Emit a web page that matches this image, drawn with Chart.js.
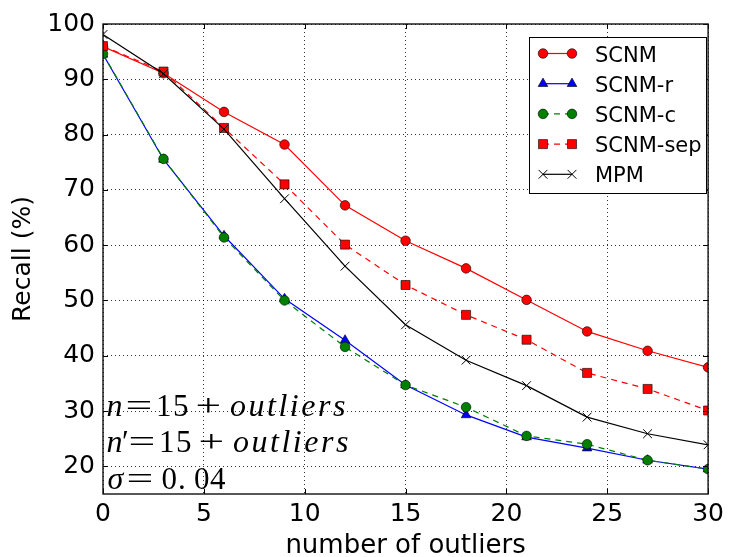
<!DOCTYPE html>
<html><head><meta charset="utf-8">
<script src="https://cdn.jsdelivr.net/npm/chart.js@4/dist/chart.umd.min.js"></script>
<style>html,body{margin:0;padding:0;background:#fff}canvas{display:block}</style>
</head><body>
<canvas id="c" width="729" height="557"></canvas>
<script>
// ---- data ----
const outliers = [0, 3, 6, 9, 12, 15, 18, 21, 24, 27, 30];
const scnm    = [95.9, 91.1, 84.1, 78.2, 67.2, 60.8, 55.8, 50.1, 44.4, 40.9, 37.9];
const scnmR   = [94.5, 75.5, 61.7, 50.3, 42.8, 34.7, 29.3, 25.3, 23.3, 21.1, 19.5];
const scnmC   = [94.6, 75.6, 61.4, 50.0, 41.6, 34.7, 30.7, 25.5, 24.0, 21.1, 19.5];
const scnmSep = [96.0, 91.4, 81.2, 71.0, 60.1, 52.8, 47.4, 42.9, 36.9, 34.0, 30.1];
const mpm     = [98.1, 91.0, 81.0, 68.4, 56.2, 45.6, 39.2, 34.6, 28.9, 25.9, 23.9];
const seriesNames = ['SCNM', 'SCNM-r', 'SCNM-c', 'SCNM-sep', 'MPM'];
const seriesValues = [scnm, scnmR, scnmC, scnmSep, mpm];
const xTicks = [0, 5, 10, 15, 20, 25, 30];
const yTicks = [20, 30, 40, 50, 60, 70, 80, 90, 100];
const xTitle = 'number of outliers';
const yTitle = 'Recall (%)';

// ---- styles ----
const styles = [
  {color: '#ff0000', dash: [], point: 'circle', r: 4.8},
  {color: '#0000ff', dash: [], point: 'triangle', r: 5.6},
  {color: '#008000', dash: [6, 5], point: 'circle', r: 4.8},
  {color: '#ff0000', dash: [6, 5], point: 'rect', r: 6.4},
  {color: '#000000', dash: [], point: 'crossRot', r: 6.2}
];

// annotation text segments: [text, italic, inkLeft, inkRight]
const annoLines = [
  {base: 416, segs: [['n', 1, 107, 122], ['=', 0, 127, 150], ['15', 0, 158, 188], ['+', 0, 197, 219], ['outliers', 1, 230, 345]]},
  {base: 452, segs: [['n', 1, 107, 122], ['\u2032', 0, 123, 128], ['=', 0, 130, 153], ['15', 0, 161, 191], ['+', 0, 200, 222], ['outliers', 1, 233, 348]]},
  {base: 489, segs: [['\u03c3', 1, 108, 124], ['=', 0, 128, 151], ['0', 0, 162, 177], ['.', 0, 180, 184], ['04', 0, 195, 226]]}
];

function marker(ctx, st, x, y) {
  const r = st.r;
  ctx.save();
  ctx.fillStyle = st.color;
  ctx.strokeStyle = '#000';
  ctx.setLineDash([]);
  ctx.beginPath();
  if (st.point === 'circle') {
    ctx.lineWidth = 0.6;
    ctx.arc(x, y, r, 0, Math.PI * 2);
    ctx.fill(); ctx.stroke();
  } else if (st.point === 'triangle') {
    ctx.lineWidth = 0.6;
    for (let k = 0; k < 3; k++) {
      const a = k * 2 * Math.PI / 3;
      const px = x + Math.sin(a) * r, py = y - Math.cos(a) * r;
      k ? ctx.lineTo(px, py) : ctx.moveTo(px, py);
    }
    ctx.closePath(); ctx.fill(); ctx.stroke();
  } else if (st.point === 'rect') {
    ctx.lineWidth = 0.6;
    const s = Math.SQRT1_2 * r;
    ctx.rect(x - s, y - s, 2 * s, 2 * s);
    ctx.fill(); ctx.stroke();
  } else {
    ctx.lineWidth = 1;
    const o = Math.SQRT1_2 * r;
    ctx.moveTo(x - o, y - o); ctx.lineTo(x + o, y + o);
    ctx.moveTo(x + o, y - o); ctx.lineTo(x - o, y + o);
    ctx.stroke();
  }
  ctx.restore();
}

const overlay = {
  id: 'overlay',
  afterDraw(chart) {
    const ctx = chart.ctx;
    const a = chart.chartArea;
    const xs = chart.scales.x, ys = chart.scales.y;
    ctx.save();
    // inward ticks
    ctx.strokeStyle = '#000';
    ctx.lineWidth = 1;
    ctx.beginPath();
    xTicks.forEach(v => {
      const p = Math.round(xs.getPixelForValue(v)) + 0.5;
      ctx.moveTo(p, a.bottom); ctx.lineTo(p, a.bottom - 5);
      ctx.moveTo(p, a.top); ctx.lineTo(p, a.top + 5);
    });
    yTicks.forEach(v => {
      const p = Math.round(ys.getPixelForValue(v)) + 0.5;
      ctx.moveTo(a.left, p); ctx.lineTo(a.left + 5, p);
      ctx.moveTo(a.right, p); ctx.lineTo(a.right - 5, p);
    });
    ctx.stroke();
    // frame
    ctx.lineWidth = 1.4;
    ctx.strokeStyle = '#111';
    ctx.strokeRect(a.left, a.top, a.right - a.left, a.bottom - a.top);

    // annotation text
    ctx.fillStyle = '#000';
    ctx.textBaseline = 'alphabetic';
    ctx.textAlign = 'left';
    annoLines.forEach(line => {
      line.segs.forEach(([t, it, l, r]) => {
        ctx.font = it ? 'italic 32px "Liberation Serif"' : '31px "Liberation Serif"';
        ctx.letterSpacing = '0px';
        const m = ctx.measureText(t);
        const w0 = m.actualBoundingBoxLeft + m.actualBoundingBoxRight;
        if (t.length > 1) {
          const sp = (r - l - w0) / (t.length - 1);
          ctx.letterSpacing = sp.toFixed(2) + 'px';
          ctx.fillText(t, l + m.actualBoundingBoxLeft, line.base);
        } else if (t === '=' || t === '+') {
          const sx = (r - l) / w0;
          ctx.save();
          ctx.translate(l, line.base);
          ctx.scale(sx, 1);
          ctx.fillText(t, m.actualBoundingBoxLeft, 0);
          ctx.restore();
        } else {
          ctx.fillText(t, l + (r - l - w0) / 2 + m.actualBoundingBoxLeft, line.base);
        }
      });
    });
    ctx.letterSpacing = '0px';

    // legend
    const L = 529.5, T = 37.5, W = 177, H = 156;
    ctx.fillStyle = '#fff';
    ctx.fillRect(L, T, W, H);
    ctx.strokeStyle = '#000';
    ctx.lineWidth = 1;
    ctx.strokeRect(L, T, W, H);
    ctx.font = '21px "DejaVu Sans"';
    seriesNames.forEach((name, i) => {
      const st = styles[i];
      const cy = 53.5 + i * 30.2;
      ctx.save();
      ctx.strokeStyle = st.color;
      ctx.lineWidth = 1.2;
      ctx.setLineDash(st.dash);
      ctx.beginPath();
      ctx.moveTo(543, cy); ctx.lineTo(572, cy);
      ctx.stroke();
      ctx.restore();
      marker(ctx, st, 543, cy);
      marker(ctx, st, 572, cy);
      ctx.fillStyle = '#000';
      ctx.textBaseline = 'alphabetic';
      ctx.fillText(name, 595, cy + 8);
    });
    ctx.restore();
  }
};

const datasets = seriesNames.map((name, i) => ({
  label: name,
  data: outliers.map((x, j) => ({x: x, y: seriesValues[i][j]})),
  borderColor: styles[i].color,
  backgroundColor: styles[i].color,
  borderWidth: 1.2,
  borderDash: styles[i].dash,
  pointStyle: styles[i].point,
  pointRadius: styles[i].r,
  pointBackgroundColor: styles[i].color,
  pointBorderColor: '#000',
  pointBorderWidth: i === 4 ? 1 : 0.6,
  tension: 0,
  fill: false,
  clip: 0,
  order: 5 - i
}));

new Chart(document.getElementById('c'), {
  type: 'line',
  data: {datasets},
  options: {
    responsive: false,
    animation: false,
    devicePixelRatio: 1,
    layout: {padding: {top: 24, right: 18, left: 0, bottom: 0}},
    plugins: {legend: {display: false}, tooltip: {enabled: false}},
    scales: {
      x: {
        type: 'linear', min: 0, max: 30,
        afterBuildTicks: s => { s.ticks = xTicks.map(v => ({value: v})); },
        afterFit: s => { s.height = 63; },
        ticks: {color: '#000', font: {family: 'DejaVu Sans', size: 25}, padding: 5, maxRotation: 0, autoSkip: false},
        grid: {color: '#000', lineWidth: 0.8, drawTicks: false},
        border: {display: false, dash: [1, 3]},
        title: {display: true, text: xTitle, color: '#000', font: {family: 'DejaVu Sans', size: 26, lineHeight: 0.85}, padding: {top: 0, bottom: 0}}
      },
      y: {
        type: 'linear', min: 15, max: 100,
        afterBuildTicks: s => { s.ticks = yTicks.map(v => ({value: v})); },
        afterFit: s => { s.width = 103; },
        ticks: {color: '#000', font: {family: 'DejaVu Sans', size: 25}, padding: 8, autoSkip: false},
        grid: {color: '#000', lineWidth: 0.8, drawTicks: false},
        border: {display: false, dash: [1, 3]},
        title: {display: true, text: yTitle, color: '#000', font: {family: 'DejaVu Sans', size: 25, lineHeight: 1.2}, padding: {top: 8, bottom: 0}}
      }
    }
  },
  plugins: [overlay]
});
</script>
</body></html>
